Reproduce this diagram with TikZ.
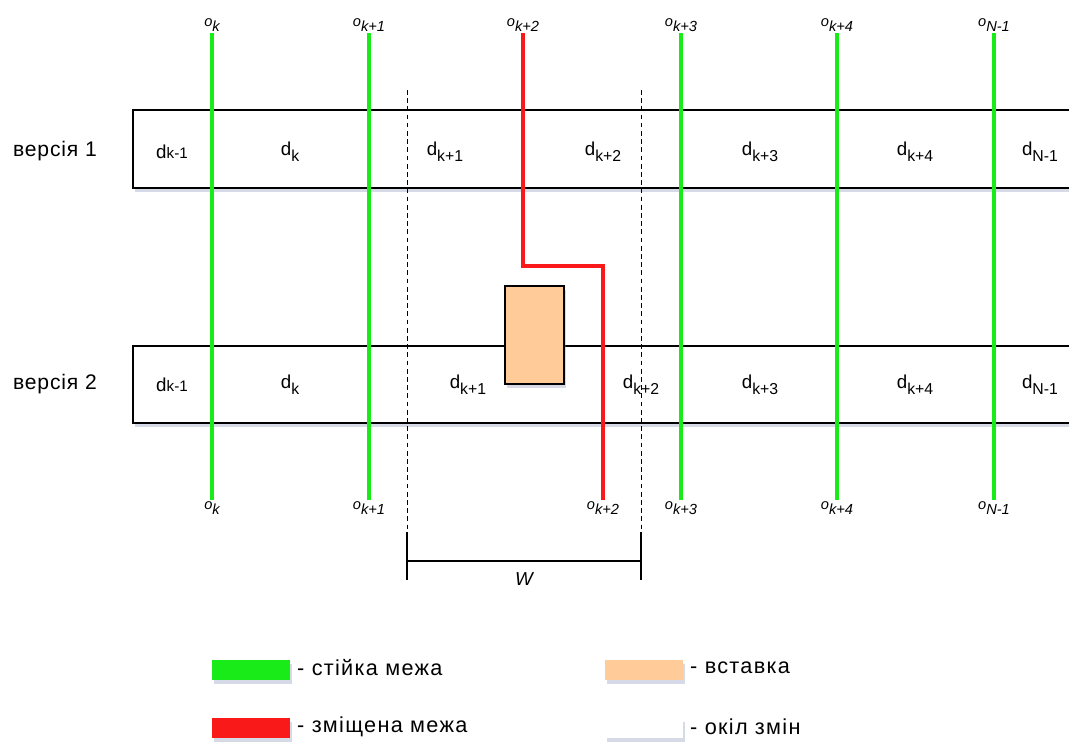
\documentclass[tikz,border=0pt]{standalone}
\usepackage{fontspec}
\setmainfont{Liberation Sans}
\usetikzlibrary{shadows}
\definecolor{boundgreen}{RGB}{25,235,25}
\definecolor{boundred}{RGB}{250,25,25}
\definecolor{insertpeach}{RGB}{255,204,153}
\definecolor{shadowblue}{RGB}{140,150,185}
\newcommand{\olbl}[1]{o\raisebox{-0.35em}{#1}}
\newcommand{\dlbl}[1]{d\raisebox{-0.3em}{\fontsize{13.5}{14}\selectfont #1}}
\tikzset{
  softshadow/.style={drop shadow={shadow xshift=2pt,shadow yshift=-3pt,fill=shadowblue,opacity=0.35}},
  rowbox/.style={draw=black,line width=1.1pt,fill=white,softshadow},
  stable/.style={boundgreen,line width=2.6pt},
  shifted/.style={boundred,line width=2.6pt},
  window/.style={black,line width=0.7pt,dashed,dash pattern=on 4pt off 3pt},
  olabel/.style={font=\fontsize{12.5}{14}\selectfont\itshape,inner sep=1pt},
  dlabel/.style={font=\fontsize{16}{18}\selectfont},
  verlabel/.style={font=\fontsize{18}{20}\selectfont\addfontfeatures{LetterSpace=4}},
  keytext/.style={font=\fontsize{18.5}{20}\selectfont\addfontfeatures{LetterSpace=6},anchor=west,inner sep=0pt},
  swatch/.style={softshadow}
}
\begin{document}
\begin{tikzpicture}[x=0.03cm,y=-0.03cm]
\clip (0,0) rectangle (1069,742);
\fill[white] (0,0) rectangle (1069,742);

% the two versions
\draw[rowbox] (133,110) rectangle (1100,188);
\draw[rowbox] (133,346) rectangle (1100,423);
\node[verlabel] (ver1) at (55,151) {версія 1};
\node[verlabel] (ver2) at (55,384) {версія 2};

% boundary labels
\foreach \x/\s/\n in {212/k/1,369/k+1/2,523/k+2/3,681/k+3/4,837/k+4/5,994/N-1/6}
  \node[olabel,anchor=south] (top\n) at (\x,33) {\olbl{\s}};
\foreach \x/\s/\n in {212/k/1,369/k+1/2,603/k+2/3,681/k+3/4,837/k+4/5,994/N-1/6}
  \node[olabel,anchor=north] (bot\n) at (\x,500) {\olbl{\s}};

% window of change
\coordinate (winL) at (407,90);
\coordinate (winR) at (641,90);
\coordinate (winLb) at (407,532);
\coordinate (winRb) at (641,532);
\draw[window] (winL) -- (winLb);
\draw[window] (winR) -- (winRb);
\draw[line width=1.1pt] (407,532) -- (407,580) (641,532) -- (641,580);
\draw[line width=1.1pt] (407,561) -- (641,561);
\node[font=\fontsize{16}{17}\selectfont\itshape] (wlabel) at (524,579) {W};

% stable and shifted boundaries
\foreach \n in {1,2,4,5,6}
  \draw[stable] (top\n.south) -- (bot\n.north);
\coordinate (bend) at (603,266);
\draw[shifted] (top3.south) |- (bend) -- (bot3.north);

% inserted block
\draw[fill=insertpeach,line width=1.1pt,softshadow] (505,286) rectangle (564,384);

% segment labels
\node[dlabel] (a1) at (172,152) {d{\fontsize{13}{13}\selectfont k-1}};
\node[dlabel] (a2) at (290,152) {\dlbl{k}};
\node[dlabel] (a3) at (445,152) {\dlbl{k+1}};
\node[dlabel] (a4) at (603,152) {\dlbl{k+2}};
\node[dlabel] (a5) at (760,152) {\dlbl{k+3}};
\node[dlabel] (a6) at (915,152) {\dlbl{k+4}};
\node[dlabel] (a7) at (1040,152) {\dlbl{N-1}};
\node[dlabel] (b1) at (172,385) {d{\fontsize{13}{13}\selectfont k-1}};
\node[dlabel] (b2) at (290,385) {\dlbl{k}};
\node[dlabel] (b3) at (468,385) {\dlbl{k+1}};
\node[dlabel] (b4) at (641,385) {\dlbl{k+2}};
\node[dlabel] (b5) at (760,385) {\dlbl{k+3}};
\node[dlabel] (b6) at (915,385) {\dlbl{k+4}};
\node[dlabel] (b7) at (1040,385) {\dlbl{N-1}};

% legend
\fill[boundgreen,swatch] (212,660) rectangle (290,680);
\fill[boundred,swatch] (212,718) rectangle (290,738);
\fill[insertpeach,swatch] (605,660) rectangle (683,680);
\fill[white,swatch] (605,718) rectangle (683,738);
\node[keytext] (key1) at (297,668) {- стійка межа};
\node[keytext] (key2) at (297,727) {- зміщена межа};
\node[keytext] (key3) at (690,668) {- вставка};
\node[keytext] (key4) at (690,727) {- окіл змін};
\end{tikzpicture}
\end{document}
